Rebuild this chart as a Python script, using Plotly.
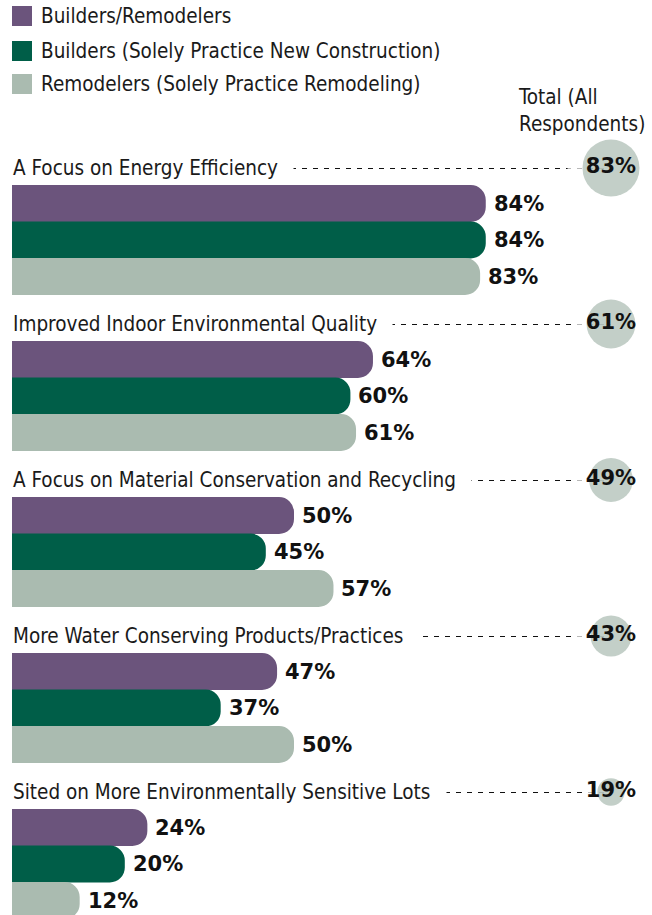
import plotly.graph_objects as go

# ---- data ----
categories = [
    "A Focus on Energy Efficiency",
    "Improved Indoor Environmental Quality",
    "A Focus on Material Conservation and Recycling",
    "More Water Conserving Products/Practices",
    "Sited on More Environmentally Sensitive Lots",
]
series_names = [
    "Builders/Remodelers",
    "Builders (Solely Practice New Construction)",
    "Remodelers (Solely Practice Remodeling)",
]
builders_remodelers = [84, 64, 50, 47, 24]
builders_new = [84, 60, 45, 37, 20]
remodelers = [83, 61, 57, 50, 12]
total_all = [83, 61, 49, 43, 19]
total_header = "Total (All<br>Respondents)"

# ---- style / layout constants (figure pixels) ----
colors = ["#6B547C", "#005E48", "#AABBB0"]
W, H = 652, 915
X0_PX = 12                # pixel where 0% sits
PX_PER_PCT = 5.64
GROUP_TOP = 168           # y of first category label
GROUP_STEP = 156
BAR_OFFSET = 35.5
BAR_STEP = 36.5
CIRCLE_D83 = 57
LABEL_FONT = "DejaVu Sans Condensed, Liberation Sans Narrow, sans-serif"
LABEL_SIZE = 20.5
VALUE_FONT = "DejaVu Sans, sans-serif"


def px_to_x(px):
    return (px - X0_PX) / PX_PER_PCT


CIRCLE_X = px_to_x(611)
series = [builders_remodelers, builders_new, remodelers]

fig = go.Figure()

label_y = [GROUP_TOP + GROUP_STEP * g for g in range(len(categories))]

for s, (name, vals) in enumerate(zip(series_names, series)):
    ys = [GROUP_TOP + BAR_OFFSET + GROUP_STEP * g + BAR_STEP * s for g in range(len(categories))]
    fig.add_trace(go.Bar(
        x=vals, y=ys, orientation="h", width=BAR_STEP + 0.3,
        marker=dict(color=colors[s], line=dict(width=0), cornerradius=15),
        name=name, showlegend=False, hoverinfo="x",
    ))
    for v, y in zip(vals, ys):
        fig.add_annotation(
            x=v, y=y, text=f"{v}%", showarrow=False, xanchor="left", yanchor="middle",
            xshift=6, font=dict(family=VALUE_FONT, size=21, color="#111111", weight="bold"),
        )

# dashed leader lines (start hidden under the label text)
for y in label_y:
    fig.add_shape(type="line", x0=px_to_x(60), x1=CIRCLE_X, y0=y + 0.5, y1=y + 0.5, layer="below",
                  line=dict(color="#111111", width=1, dash="5px,6px"))

sizeref = 2 * 83 / CIRCLE_D83 ** 2
# white halo so the dashes stop short of the circles
fig.add_trace(go.Scatter(
    x=[CIRCLE_X] * len(total_all), y=label_y, mode="markers",
    marker=dict(size=total_all, sizemode="area", sizeref=sizeref, color="white",
                line=dict(color="white", width=30)),
    showlegend=False, hoverinfo="skip",
))
fig.add_trace(go.Scatter(
    x=[CIRCLE_X] * len(total_all), y=label_y, mode="markers+text",
    marker=dict(size=total_all, sizemode="area", sizeref=sizeref, color=colors[2],
                line=dict(width=0)),
    text=[f"{v}%" for v in total_all], textposition="middle center",
    textfont=dict(family=VALUE_FONT, size=21, color="#111111", weight="bold"),
    showlegend=False, name="Total (All Respondents)",
))

# category labels (white background hides the dashes beneath the text)
for cat, y in zip(categories, label_y):
    fig.add_annotation(
        x=0, y=y, text=cat + "\u00a0\u00a0\u2009", showarrow=False, xanchor="left", yanchor="middle",
        bgcolor="white", borderpad=0,
        font=dict(family=LABEL_FONT, size=LABEL_SIZE, color="#1a1a1a"),
    )

# header for totals
fig.add_annotation(
    x=px_to_x(516), y=110, text=total_header, showarrow=False,
    xanchor="left", yanchor="middle", align="left",
    font=dict(family=LABEL_FONT, size=LABEL_SIZE, color="#1a1a1a"),
)

# legend (custom)
legend_y = [16, 51, 84]
fig.add_trace(go.Scatter(
    x=[px_to_x(22)] * 3, y=legend_y, mode="markers",
    marker=dict(symbol="square", size=20, color=colors, line=dict(width=0)),
    showlegend=False, hoverinfo="skip",
))
for name, y in zip(series_names, legend_y):
    fig.add_annotation(
        x=px_to_x(39), y=y, text=name, showarrow=False,
        xanchor="left", yanchor="middle",
        font=dict(family=LABEL_FONT, size=LABEL_SIZE, color="#1a1a1a"),
    )

fig.update_layout(
    width=W, height=H, margin=dict(l=0, r=0, t=0, b=0),
    paper_bgcolor="white", plot_bgcolor="white",
    barmode="overlay",
    xaxis=dict(range=[-X0_PX / PX_PER_PCT, (W - X0_PX) / PX_PER_PCT], visible=False, fixedrange=True),
    yaxis=dict(range=[H, 0], visible=False, fixedrange=True),
    showlegend=False,
)

fig.write_html("out.html", config={"displayModeBar": False},
               post_script="document.body.style.margin='0';")
